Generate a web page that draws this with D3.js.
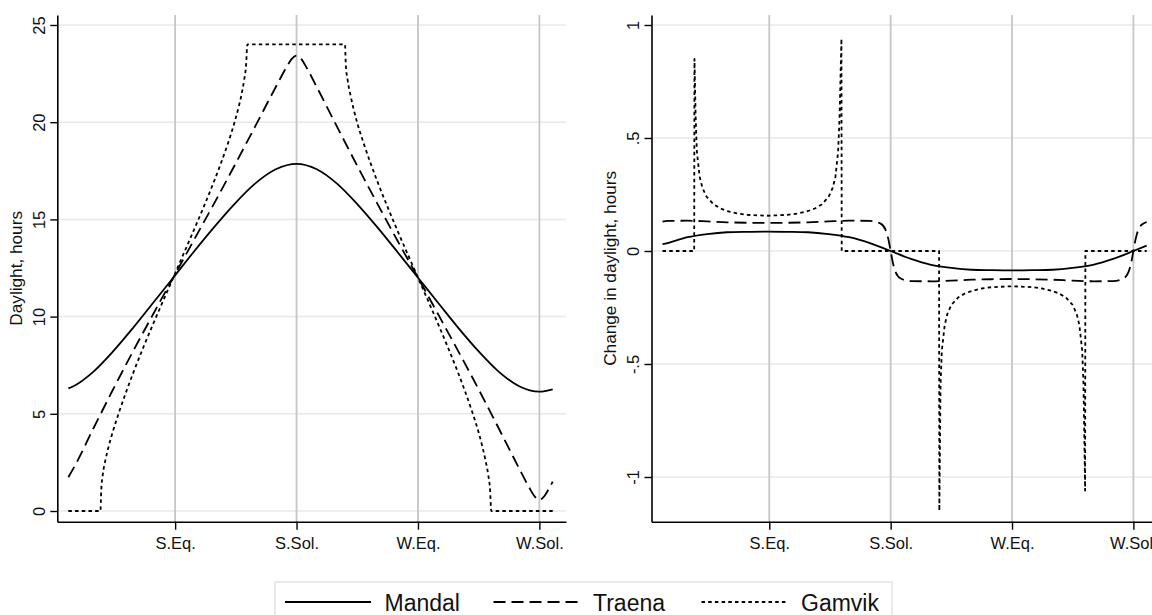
<!DOCTYPE html>
<html>
<head>
<meta charset="utf-8">
<script src="https://cdn.jsdelivr.net/npm/d3@7"></script>
<style>
  body { margin: 0; background: #ffffff; }
  svg { display: block; font-family: "Liberation Sans", Arial, Helvetica, sans-serif; }
</style>
</head>
<body>
<svg id="chart" width="1152" height="615"></svg>
<script>
////////////////////////////////////////////////////////////////////////
// Daylight at three Norwegian places over the year, plus day-to-day change
////////////////////////////////////////////////////////////////////////

//x axis ticks (day of year)
var dayTicks = [81.25, 172.5, 263.75, 355];
var dayTickLabels = ["S.Eq.", "S.Sol.", "W.Eq.", "W.Sol."];

//y axis ticks
var hourTicks = [0, 5, 10, 15, 20, 25];
var changeTicks = [-1, -0.5, 0, 0.5, 1];
var changeTickLabels = ["-1", "-.5", "0", ".5", "1"];

var seriesNames = ["Mandal", "Traena", "Gamvik"];

//Mandal -- days, hours of daylight, change per day
var mandalDays = [1, 4.8, 19.7, 34.6, 49.5, 64.6, 79.8, 95.0, 110.4, 125.8, 141.3, 156.9, 172.5,
  187.7, 202.9, 218.1, 233.3, 248.5, 263.8, 279.0, 294.2, 309.4, 324.6, 339.8, 355.0, 365];
var mandalHours = [6.31, 6.42, 7.16, 8.21, 9.41, 10.70, 12.00, 13.31, 14.59, 15.79, 16.84, 17.58, 17.86,
  17.58, 16.84, 15.79, 14.59, 13.31, 12.00, 10.70, 9.41, 8.21, 7.16, 6.42, 6.14, 6.26];
var mandalChange = [0.030, 0.035, 0.061, 0.075, 0.083, 0.085, 0.086, 0.085, 0.083, 0.075, 0.061, 0.035, 0,
  -0.035, -0.061, -0.075, -0.083, -0.085, -0.086, -0.085, -0.083, -0.075, -0.061, -0.035, 0, 0.024];

//Traena
var traenaDays = [1, 4.8, 19.7, 34.6, 49.5, 64.6, 79.8, 95.0, 110.4, 125.8, 141.3, 156.9,
  164.7, 168.6, 170.55, 172.5, 174.4, 176.3, 180.1,
  187.7, 202.9, 218.1, 233.3, 248.5, 263.8, 279.0, 294.2, 309.4, 324.6, 339.8,
  347.4, 351.2, 353.1, 355.0, 356.9, 358.8, 362.6, 365];
var traenaHours = [1.74, 2.19, 4.23, 6.25, 8.20, 10.11, 12.00, 13.89, 15.80, 17.76, 19.77, 21.81,
  22.80, 23.23, 23.37, 23.43, 23.37, 23.23, 22.80,
  21.81, 19.77, 17.76, 15.80, 13.89, 12.00, 10.11, 8.20, 6.25, 4.23, 2.19,
  1.20, 0.77, 0.63, 0.57, 0.63, 0.77, 1.20, 1.51];
var traenaChange = [0.130, 0.133, 0.134, 0.131, 0.127, 0.125, 0.124, 0.125, 0.127, 0.131, 0.134, 0.133,
  0.122, 0.095, 0.058, 0, -0.058, -0.095, -0.122,
  -0.133, -0.134, -0.131, -0.127, -0.125, -0.124, -0.125, -0.127, -0.131, -0.134, -0.133,
  -0.122, -0.095, -0.058, 0, 0.058, 0.095, 0.122, 0.128];

//Gamvik -- polar night and midnight sun, so it gets its own day lists
var gamvikDays = [1, 25.1, 25.7, 26.9, 28.9, 31.0, 34.2, 39.4, 44.5, 49.5,
  57.0, 64.6, 79.8, 95.0, 102.7, 110.4, 115.5, 120.7, 125.8, 128.9,
  131.0, 133.0, 134.6, 135.5, 208.9, 209.5, 211.0, 213.1, 215.1, 218.1,
  223.2, 228.3, 233.3, 240.9, 248.5, 263.8, 279.0, 286.6, 294.2, 299.2,
  304.3, 309.4, 312.4, 314.4, 316.5, 318.0, 318.8, 365];
var gamvikHours = [0, 0, 1.03, 1.88, 2.63, 3.24, 4.03, 5.14, 6.14, 7.06,
  8.36, 9.60, 12.00, 14.40, 15.64, 16.94, 17.86, 18.86, 19.97, 20.76,
  21.37, 22.12, 22.97, 24.00, 24.00, 22.97, 22.12, 21.37, 20.76, 19.97,
  18.86, 17.86, 16.94, 15.64, 14.40, 12.00, 9.60, 8.36, 7.06, 6.14,
  5.14, 4.03, 3.24, 2.63, 1.88, 1.03, 0, 0];
var gamvikChangeDays = [1, 24.8, 25.0, 25.9, 26.8, 28.9, 31.0, 34.2, 39.5, 44.5,
  49.5, 57.0, 64.6, 79.8, 95.0, 102.7, 110.4, 115.5, 120.7, 125.8,
  128.9, 131.0, 133.0, 134.1, 135.5, 135.7, 208.9, 209.1, 210.0, 211.0,
  213.1, 215.1, 218.1, 223.2, 228.3, 233.3, 240.9, 248.5, 263.8, 279.0,
  286.6, 294.2, 299.2, 304.3, 309.4, 312.4, 314.4, 316.5, 317.5, 318.7,
  318.9, 365];
var gamvikChange = [0, 0, 0.85, 0.592, 0.440, 0.329, 0.279, 0.239, 0.206, 0.188,
  0.177, 0.166, 0.160, 0.156, 0.160, 0.166, 0.177, 0.188, 0.206, 0.239,
  0.279, 0.329, 0.440, 0.592, 0.94, 0, 0, -1.15, -0.592, -0.440,
  -0.329, -0.279, -0.239, -0.206, -0.188, -0.177, -0.166, -0.160, -0.156, -0.160,
  -0.166, -0.177, -0.188, -0.206, -0.239, -0.279, -0.329, -0.440, -0.592, -1.06,
  0, 0];


////////////////////////////////////////////////////////////////////////
//
// Will draw both panels and the shared legend
//
////////////////////////////////////////////////////////////////////////
function init()
  {
  var svg = d3.select("#chart");

  svg.append("rect").attr("width", 1152).attr("height", 615).attr("fill", "#ffffff");

  //dash patterns for solid / dashed / dotted
  var dashes = [null, "12,6", "3.5,3.2"];

  drawPanel(svg, {
    xRange: [57.3, 566],
    yDomain: [-0.55, 25.514],
    yTicks: hourTicks,
    yLabels: hourTicks.map(String),
    yTitle: "Daylight, hours",
    series: [
      {days: mandalDays, values: mandalHours, dash: dashes[0], curve: d3.curveMonotoneX},
      {days: traenaDays, values: traenaHours, dash: dashes[1], curve: d3.curveMonotoneX},
      {days: gamvikDays, values: gamvikHours, dash: dashes[2], curve: d3.curveMonotoneX}
    ]
  });

  //right panel runs past the edge of the picture, as in the original
  drawPanel(svg, {
    xRange: [651.5, 1160],
    yDomain: [-1.1978, 1.0442],
    yTicks: changeTicks,
    yLabels: changeTickLabels,
    yTitle: "Change in daylight, hours",
    series: [
      {days: mandalDays, values: mandalChange, dash: dashes[0], curve: d3.curveMonotoneX},
      {days: traenaDays, values: traenaChange, dash: dashes[1], curve: d3.curveMonotoneX},
      {days: gamvikChangeDays, values: gamvikChange, dash: dashes[2], curve: d3.curveLinear}
    ]
  });

  drawLegend(svg, dashes);
  }


////////////////////////////////////////////////////////////////////////
//
// One panel: grid, axes, titles and the three lines
//
////////////////////////////////////////////////////////////////////////
function drawPanel(svg, opt)
  {
  var top = 15;
  var bottom = 521.7;

  var x = d3.scaleLinear().domain([-7.3, 375]).range(opt.xRange);
  var y = d3.scaleLinear().domain(opt.yDomain).range([bottom, top]);

  var g = svg.append("g");

  //horizontal grid (very light)
  g.selectAll(".hgrid")
    .data(opt.yTicks)
    .enter()
    .append("line")
    .attr("x1", opt.xRange[0]).attr("x2", opt.xRange[1])
    .attr("y1", d => y(d)).attr("y2", d => y(d))
    .attr("stroke", "#e8e8e8")
    .attr("stroke-width", 1.5);

  //vertical grid (darker)
  g.selectAll(".vgrid")
    .data(dayTicks)
    .enter()
    .append("line")
    .attr("x1", d => x(d)).attr("x2", d => x(d))
    .attr("y1", top).attr("y2", bottom)
    .attr("stroke", "#c6c6c6")
    .attr("stroke-width", 1.8);

  //lines
  opt.series.forEach(function(s)
    {
    var pts = s.days.map((d, i) => [d, s.values[i]]);
    var line = d3.line()
      .x(d => x(d[0]))
      .y(d => y(d[1]))
      .curve(s.curve);

    g.append("path")
      .attr("d", line(pts))
      .attr("fill", "none")
      .attr("stroke", "#000000")
      .attr("stroke-width", 1.8)
      .attr("stroke-linejoin", "round")
      .attr("stroke-dasharray", s.dash);
    });

  //y axis
  var yAxis = g.append("g")
    .attr("transform", "translate(" + opt.xRange[0] + ",0)")
    .call(d3.axisLeft(y).tickValues(opt.yTicks).tickSize(7).tickSizeOuter(0)
      .tickFormat((d, i) => opt.yLabels[i]));

  yAxis.selectAll("text")
    .attr("transform", "rotate(-90)")
    .attr("x", 0)
    .attr("y", -12.8)
    .attr("dy", 0)
    .attr("text-anchor", "middle")
    .style("font-size", "16.5px")
    .attr("fill", "#111");

  //x axis
  var xAxis = g.append("g")
    .attr("transform", "translate(0," + bottom + ")")
    .call(d3.axisBottom(x).tickValues(dayTicks).tickSize(8).tickSizeOuter(0)
      .tickFormat((d, i) => dayTickLabels[i]));

  xAxis.selectAll("text")
    .attr("y", 27.5)
    .attr("dy", 0)
    .style("font-size", "16.5px")
    .attr("fill", "#111");

  [yAxis, xAxis].forEach(function(a)
    {
    a.select(".domain").attr("stroke", "#000").attr("stroke-width", 1.6);
    a.selectAll(".tick line").attr("stroke", "#000").attr("stroke-width", 1.4);
    a.attr("font-family", null);
    });

  //axis title
  g.append("text")
    .attr("transform", "translate(" + (opt.xRange[0] - 35.3) + "," + ((top + bottom) / 2) + ") rotate(-90)")
    .attr("text-anchor", "middle")
    .style("font-size", "17.2px")
    .attr("fill", "#111")
    .text(opt.yTitle);

  return;
  }


////////////////////////////////////////////////////////////////////////
//
// Legend box under the panels
//
////////////////////////////////////////////////////////////////////////
function drawLegend(svg, dashes)
  {
  var starts = [285, 493.5, 701.5];
  var symbolLength = 86;
  var lineY = 602;

  var legend = svg.append("g");

  legend.append("rect")
    .attr("x", 275).attr("y", 582)
    .attr("width", 617).attr("height", 60)
    .attr("fill", "#ffffff")
    .attr("stroke", "#e4e4e4")
    .attr("stroke-width", 1.5);

  seriesNames.forEach(function(name, i)
    {
    legend.append("line")
      .attr("x1", starts[i]).attr("x2", starts[i] + symbolLength)
      .attr("y1", lineY).attr("y2", lineY)
      .attr("stroke", "#000")
      .attr("stroke-width", 1.8)
      .attr("stroke-dasharray", dashes[i]);

    legend.append("text")
      .attr("x", starts[i] + 99.5)
      .attr("y", 610.5)
      .style("font-size", "23px")
      .attr("fill", "#111")
      .text(name);
    });

  return;
  }

init();
</script>
</body>
</html>
